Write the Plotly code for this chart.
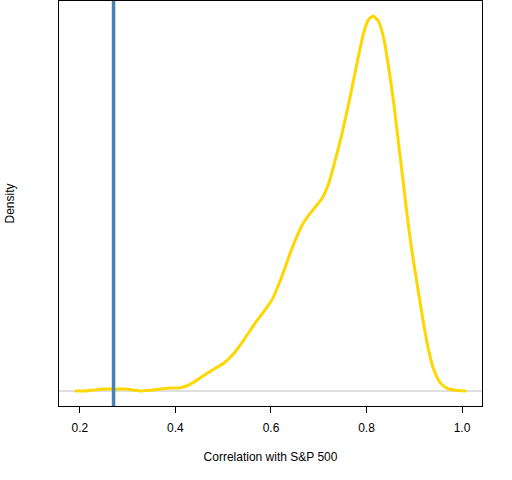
import plotly.graph_objects as go

# Density of correlation with S&P 500
correlation = [0.189, 0.211, 0.232, 0.253, 0.274, 0.295, 0.310, 0.326, 0.347, 0.368,
               0.389, 0.410, 0.424, 0.438, 0.459, 0.480, 0.501, 0.522, 0.543, 0.564,
               0.585, 0.602, 0.620, 0.640, 0.654, 0.668, 0.689, 0.707, 0.721, 0.731,
               0.742, 0.752, 0.763, 0.773, 0.783, 0.794, 0.804, 0.814, 0.825, 0.836,
               0.846, 0.857, 0.867, 0.878, 0.888, 0.899, 0.909, 0.920, 0.930, 0.941,
               0.955, 0.969, 0.990, 1.009]
density = [0.0, 0.0, 0.014, 0.024, 0.024, 0.024, 0.014, 0.0, 0.009, 0.024,
           0.038, 0.042, 0.066, 0.108, 0.193, 0.273, 0.348, 0.470, 0.639, 0.827,
           0.996, 1.142, 1.391, 1.725, 1.936, 2.110, 2.280, 2.416, 2.604, 2.815,
           3.064, 3.314, 3.610, 3.901, 4.192, 4.489, 4.653, 4.700, 4.634, 4.423,
           4.070, 3.610, 3.107, 2.562, 2.059, 1.603, 1.227, 0.827, 0.512, 0.263,
           0.099, 0.033, 0.005, 0.0]
marker_value = 0.2704
x_ticks = [0.2, 0.4, 0.6, 0.8, 1.0]
x_tick_labels = ["0.2", "0.4", "0.6", "0.8", "1.0"]

xmin, xmax = min(correlation), max(correlation)
xpad = 0.04 * (xmax - xmin)
ymin, ymax = 0.0, max(density)
ypad = 0.04 * (ymax - ymin)

FONT = "Liberation Sans, Arial, sans-serif"

fig = go.Figure()
fig.add_hline(y=0, line_color="#BEBEBE", line_width=1, layer="below")
fig.add_trace(go.Scatter(x=correlation, y=density, mode="lines",
                         line=dict(color="#FFD700", width=3, shape="spline", smoothing=0.6),
                         hoverinfo="skip", showlegend=False))
fig.add_vline(x=marker_value, line_color="#4682B4", line_width=3.5)

fig.update_layout(
    width=512, height=480,
    margin=dict(l=59, r=30, t=1, b=74),
    paper_bgcolor="white", plot_bgcolor="white",
    font=dict(family=FONT, size=12, color="black"),
    showlegend=False,
)
fig.update_xaxes(
    range=[xmin - xpad, xmax + xpad],
    tickvals=x_ticks, ticktext=x_tick_labels,
    ticks="outside", ticklen=6, tickcolor="black", tickwidth=1,
    ticklabelstandoff=5, tickfont=dict(family=FONT, size=12, color="black"),
    showline=True, mirror=True, linecolor="black", linewidth=1,
    showgrid=False, zeroline=False,
    title=dict(text="Correlation with S&P 500", standoff=18,
               font=dict(family=FONT, size=12, color="black")),
    automargin=False,
)
fig.update_yaxes(
    range=[ymin - ypad, ymax + ypad],
    showticklabels=False, ticks="",
    showline=True, mirror=True, linecolor="black", linewidth=1,
    showgrid=False, zeroline=False,
    title=dict(text="Density", standoff=40,
               font=dict(family=FONT, size=12, color="black")),
    automargin=False,
)

fig.write_html("out.html", config={"displayModeBar": False},
               post_script="document.body.style.margin='0px';")
